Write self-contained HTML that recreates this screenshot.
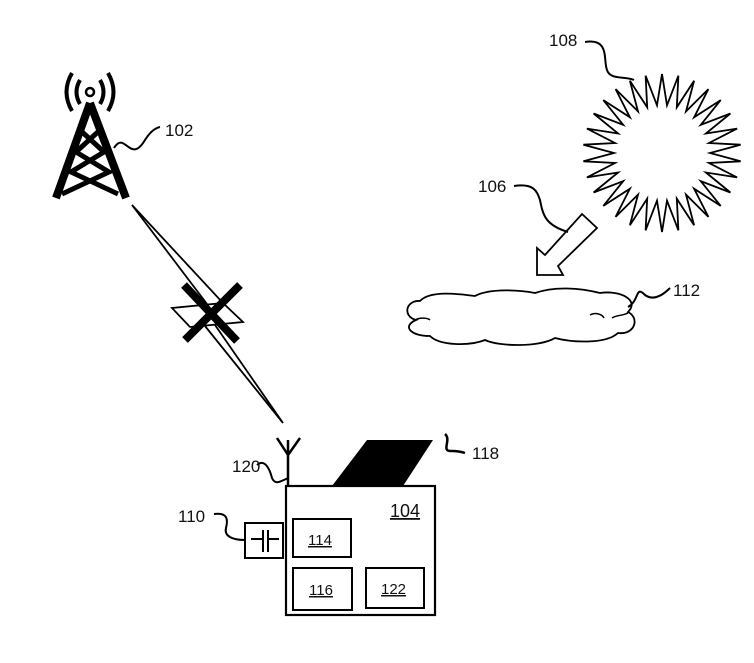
<!DOCTYPE html>
<html><head><meta charset="utf-8"><style>
html,body{margin:0;padding:0;background:#fff;width:754px;height:663px;overflow:hidden}
text{font-family:"Liberation Sans",sans-serif;font-size:17px;fill:#111}
</style></head><body>
<svg width="754" height="663" viewBox="0 0 754 663" xmlns="http://www.w3.org/2000/svg">
<g fill="none" stroke="#000">
<g stroke-width="8" stroke-linejoin="miter">
<path d="M90,103 L56,198 M90,103 L126,198"/>
<path d="M80,130 L104,152 L71,172 L118,194 M100,130 L76,152 L109,172 L62,194" stroke-width="5"/>
</g>
<circle cx="90" cy="92" r="4" stroke-width="2.5"/>
<path d="M80,80 Q73,92 80,104 M100,80 Q107,92 100,104" stroke-width="4"/>
<path d="M72,73 Q61,92 72,111 M108,73 Q119,92 108,111" stroke-width="4"/>
<path d="M114,148 C125,130 130,165 145,140 C150,132 155,128 160,127" stroke-width="2"/>
<g stroke-width="1.8">
<path d="M132,205 L223,303 L172,308 L190,327 L243,322 L224,304"/>
<path d="M132,205 L207,304"/>
<path d="M205,326 L283,423 L215,325"/>
</g>
<path d="M184,285 L237,341 M240,285 L185,340" stroke-width="8"/>
<polygon id="sun" stroke-width="1.8" points=""/>
<path d="M585,42 C610,38 603,60 607,70 C610,80 625,76 634,80" stroke-width="2"/>
<polygon points="537,275 537,248 545,255 582,214 597,228 558,266 563,275" stroke-width="1.8" stroke-linejoin="miter"/>
<path d="M514,186 C535,183 537,192 540,200 C543,215 545,225 568,232" stroke-width="2"/>
<path d="M420,301 C430,290 460,294 475,296 C490,288 520,290 535,293 C555,286 580,288 600,293 C620,290 640,300 628,312 C640,318 635,335 618,333 C605,345 570,342 555,338 C540,347 500,347 485,340 C470,346 440,346 430,336 C410,336 402,326 416,320 C402,316 406,300 420,301 Z" stroke-width="1.8"/>
<path d="M415,320 C420,317 428,318 430,320 M612,318 C616,315 622,316 628,313 M590,315 C595,312 602,314 604,318" stroke-width="1.5"/>
<path d="M628,307 C640,300 635,285 645,295 C652,300 660,298 670,288" stroke-width="2"/>
<rect x="286" y="486" width="149" height="129" stroke-width="2.2"/>
<rect x="293" y="519" width="58" height="38" stroke-width="2"/>
<rect x="293" y="568" width="59" height="42" stroke-width="2"/>
<rect x="366" y="568" width="58" height="40" stroke-width="2"/>
<rect x="245" y="523" width="38" height="35" stroke-width="2"/>
<path d="M251,539 L262,539 M263,530 L263,552 M268,530 L268,552 M268,539 L279,539" stroke-width="2"/>
<path d="M288,486 L288,455 L277,438 M288,455 L300,438 M288,455 L288,440" stroke-width="2.5"/>
<path d="M257,465 C265,458 270,470 272,478 C275,485 280,482 288,478" stroke-width="2"/>
<path d="M214,514 C228,512 228,520 226,528 C224,536 232,540 245,540" stroke-width="2"/>
<path d="M445,434 C452,440 440,452 452,451 C458,451 462,452 465,453" stroke-width="2.5"/>
</g>
<polygon points="332,486 367,440 433,440 403,486" fill="#000"/>
<text x="165" y="136">102</text>
<text x="549" y="46">108</text>
<text x="478" y="192">106</text>
<text x="673" y="296">112</text>
<text x="472" y="459">118</text>
<text x="232" y="472">120</text>
<text x="178" y="522">110</text>
<text x="390" y="517" text-decoration="underline" style="font-size:18px">104</text>
<text x="308" y="545" style="font-size:15px" text-decoration="underline">114</text>
<text x="309" y="595" style="font-size:15px" text-decoration="underline">116</text>
<text x="381" y="594" style="font-size:15px" text-decoration="underline">122</text>
</svg>
<script>
var cx=662,cy=153,ro=79,ri=48,n=30,p=[];
for(var i=0;i<2*n;i++){var a=Math.PI*i/n-Math.PI/2,r=i%2?ri:ro;p.push((cx+r*Math.cos(a)).toFixed(1)+","+(cy+r*Math.sin(a)).toFixed(1));}
document.getElementById("sun").setAttribute("points",p.join(" "));
</script>
</body></html>
